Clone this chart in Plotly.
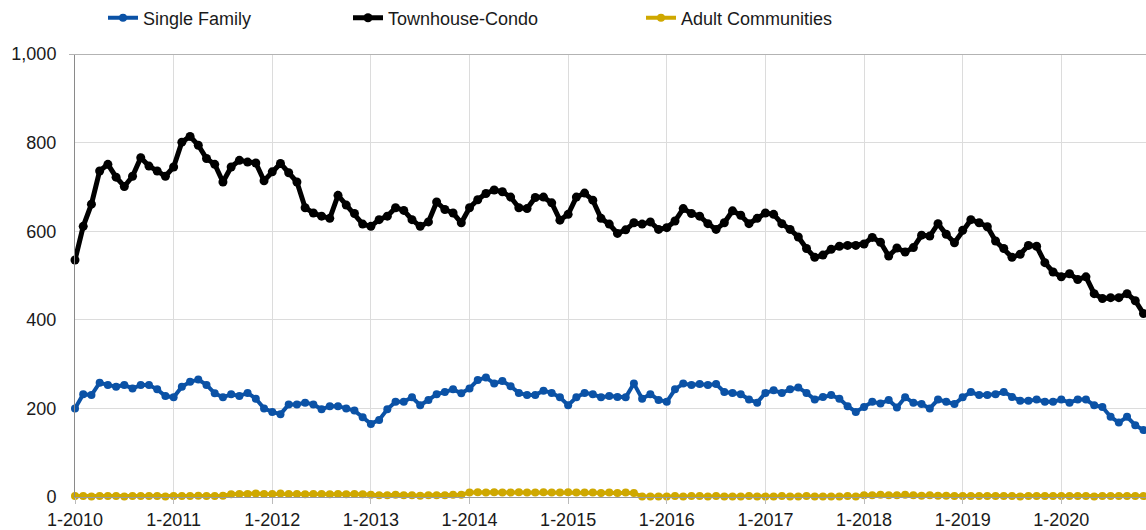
import plotly.graph_objects as go

# monthly values, Jan 2010 .. Nov 2020
months = list(range(131))
years = list(range(2010, 2021))
tick_labels = [f"1-{y}" for y in years]

single_family = [
    200, 232, 230, 258, 253, 249, 253, 245, 253, 253, 243, 228,
    225, 249, 260, 265, 253, 234, 225, 232, 228, 235, 222, 200,
    192, 187, 209, 209, 213, 209, 198, 205, 205, 200, 195, 180,
    165, 174, 198, 215, 215, 225, 207, 219, 232, 237, 243, 234,
    245, 264, 270, 256, 262, 250, 235, 230, 230, 240, 235, 225,
    207, 225, 235, 232, 225, 228, 226, 225, 256, 222, 232, 219,
    215, 243, 256, 253, 255, 253, 255, 237, 235, 232, 220, 213,
    235, 241, 235, 243, 247, 235, 220, 226, 230, 222, 205, 192,
    203, 215, 211, 219, 202, 225, 213, 210, 200, 220, 215, 210,
    225, 237, 230, 230, 232, 237, 226, 217, 217, 220, 215, 215,
    220, 213, 220, 220, 207, 203, 181, 168, 181, 162, 151,
]

townhouse_condo = [
    535, 611, 661, 736, 751, 722, 701, 724, 766, 747, 736, 724,
    745, 801, 814, 794, 764, 751, 711, 745, 760, 756, 754, 714,
    734, 753, 732, 711, 653, 641, 634, 629, 681, 659, 640, 616,
    611, 626, 634, 653, 647, 626, 611, 621, 666, 649, 641, 619,
    653, 671, 685, 693, 689, 677, 653, 651, 676, 677, 664, 625,
    638, 677, 686, 670, 629, 616, 595, 603, 619, 616, 621, 604,
    608, 623, 651, 640, 634, 617, 604, 619, 646, 636, 617, 629,
    641, 638, 617, 604, 587, 561, 541, 546, 559, 566, 568, 568,
    571, 586, 575, 544, 562, 553, 563, 591, 589, 617, 593, 574,
    602, 626, 619, 610, 578, 561, 541, 548, 568, 566, 529, 508,
    497, 504, 491, 497, 459, 448, 450, 450, 459, 443, 414,
]

adult_communities = [
    2, 2, 1, 2, 2, 2, 1, 2, 2, 2, 2, 1,
    2, 2, 2, 3, 2, 2, 3, 6, 7, 7, 8, 7,
    7, 8, 7, 7, 6, 7, 7, 6, 7, 6, 7, 6,
    5, 4, 4, 5, 4, 4, 3, 4, 4, 4, 5, 5,
    10, 11, 10, 11, 10, 10, 11, 10, 10, 11, 10, 10,
    11, 10, 10, 10, 9, 10, 9, 10, 9, 1, 1, 1,
    1, 2, 1, 2, 2, 1, 2, 1, 1, 1, 2, 1,
    1, 1, 2, 1, 1, 2, 1, 1, 1, 1, 2, 1,
    4, 4, 5, 4, 4, 5, 4, 3, 4, 3, 3, 2,
    2, 2, 2, 2, 2, 2, 2, 1, 2, 2, 2, 2,
    2, 2, 2, 2, 1, 2, 2, 2, 2, 2, 2,
]

FONT = "Liberation Sans, Arial, Helvetica, sans-serif"
series = [
    ("Single Family", single_family, "#0B52A6", "legend", 4, 8),
    ("Townhouse-Condo", townhouse_condo, "#000000", "legend2", 5, 9),
    ("Adult Communities", adult_communities, "#CFA800", "legend3", 4, 8),
]

fig = go.Figure()
for name, values, color, leg, lw, ms in series:
    fig.add_trace(
        go.Scatter(
            x=months,
            y=values,
            name=name,
            mode="lines+markers",
            line=dict(color=color, width=lw),
            marker=dict(color=color, size=ms),
            cliponaxis=False,
            legend=leg,
        )
    )

legend_common = dict(
    orientation="h",
    xref="container",
    yref="container",
    yanchor="middle",
    y=1 - 18 / 530,
    xanchor="left",
    font=dict(family=FONT, size=18, color="#1a1a1a"),
    bgcolor="rgba(0,0,0,0)",
    borderwidth=0,
    itemwidth=30,
)

fig.update_layout(
    width=1146,
    height=530,
    margin=dict(l=75, r=0, t=54, b=33),
    plot_bgcolor="white",
    paper_bgcolor="white",
    font=dict(family=FONT, size=18, color="#1a1a1a"),
    showlegend=True,
    legend=dict(legend_common, x=103 / 1146),
    legend2=dict(legend_common, x=348 / 1146),
    legend3=dict(legend_common, x=641 / 1146),
    xaxis=dict(
        range=[0, 1071 / (986.3 / 120)],
        tickvals=[12 * i for i in range(len(years))],
        ticktext=tick_labels,
        showgrid=True,
        gridcolor="#dcdcdc",
        gridwidth=1,
        showline=True,
        linecolor="#9a9a9a",
        ticks="outside",
        ticklen=6,
        tickcolor="#bbbbbb",
        zeroline=False,
        automargin=False,
        tickfont=dict(family=FONT, size=18, color="#1a1a1a"),
    ),
    yaxis=dict(
        range=[0, 1000],
        tickvals=[0, 200, 400, 600, 800, 1000],
        tickformat=",d",
        showgrid=True,
        gridcolor="#dcdcdc",
        gridwidth=1,
        showline=True,
        linecolor="#8a8a8a",
        zeroline=False,
        ticks="",
        ticklabelstandoff=14,
        automargin=False,
        tickfont=dict(family=FONT, size=18, color="#1a1a1a"),
    ),
    shapes=[
        dict(
            type="line",
            xref="paper",
            yref="y",
            x0=-6 / 1071,
            x1=1,
            y0=1000,
            y1=1000,
            line=dict(color="#b3b3b3", width=2),
            layer="above",
        )
    ],
)

# drop the default page margin so the figure sits at the window's corner
fig.write_html(
    "out.html",
    config={"displayModeBar": False},
    post_script="document.body.style.margin='0';",
)
